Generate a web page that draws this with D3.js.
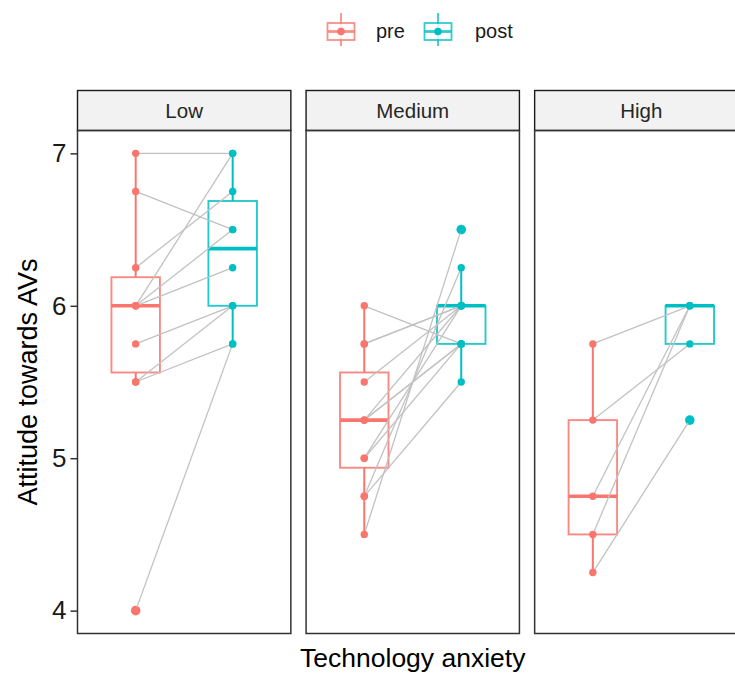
<!DOCTYPE html>
<html>
<head>
<meta charset="utf-8">
<script src="https://cdn.jsdelivr.net/npm/d3@7"></script>
<style>
  body { margin: 0; background: #fff; }
  text { font-family: "Liberation Sans", Arial, sans-serif; }
</style>
</head>
<body>
<svg id="chart" width="735" height="673"></svg>
<script>
const groups = ["Low", "Medium", "High"]
const conditions = ["pre", "post"]
const colors = ["#F8766D", "#00BFC4"]

// paired scores, one entry per participant (pre[i] -> post[i])
const lowPre = [7, 6.75, 6.25, 6, 6, 6, 5.75, 5.5, 5.5, 4]
const lowPost = [7, 6.5, 6.75, 7, 6.5, 6.25, 6, 6, 5.75, 5.75]
const mediumPre = [6, 5.75, 5.75, 5.5, 5.25, 5.25, 5.25, 5, 5, 4.75, 4.75, 4.5]
const mediumPost = [5.75, 6, 6, 6, 6, 5.75, 5.75, 6, 5.75, 6.25, 5.5, 6.5]
const highPre = [5.75, 5.25, 4.75, 4.5, 4.25]
const highPost = [6, 5.75, 6, 6, 5.25]
const yTicks = [4, 5, 6, 7]

const groupData = [
    { name: "Low", pre: lowPre, post: lowPost },
    { name: "Medium", pre: mediumPre, post: mediumPost },
    { name: "High", pre: highPre, post: highPost }
]

const svg = d3.select("#chart")

const panelTop = 130.5
const panelBottom = 633.5
const stripTop = 90.5

const facet = d3.scaleBand()
    .domain(groups)
    .range([77.5, 748])
    .paddingInner(0.0666)

const pw = facet.bandwidth()

const x = d3.scalePoint()
    .domain(conditions)
    .range([0, pw])
    .padding(0.6)

const y = d3.scaleLinear()
    .domain([3.85, 7.15])
    .range([panelBottom, panelTop])

const boxWidth = x.step() * 0.5

const boxStats = (values) => {
    let s = values.slice().sort(d3.ascending)
    let q1 = d3.quantile(s, 0.25)
    let med = d3.quantile(s, 0.5)
    let q3 = d3.quantile(s, 0.75)
    let iqr = q3 - q1
    let inside = s.filter(v => v >= q1 - 1.5 * iqr && v <= q3 + 1.5 * iqr)
    return {
        q1: q1, med: med, q3: q3,
        lo: d3.min(inside), hi: d3.max(inside),
        out: s.filter(v => v < q1 - 1.5 * iqr || v > q3 + 1.5 * iqr)
    }
}

// legend
const legend = svg.append("g")
const legendItems = [
    { label: "pre", color: colors[0], kx: 341, tx: 376 },
    { label: "post", color: colors[1], kx: 438, tx: 475 }
]
legendItems.forEach((d) => {
    let g = legend.append("g").attr("transform", "translate(" + d.kx + ",31)")
    g.append("line").attr("x1", 0).attr("x2", 0).attr("y1", -18).attr("y2", 15)
        .attr("stroke", d.color).attr("stroke-width", 1.8).attr("opacity", 0.8)
    g.append("rect").attr("x", -13.5).attr("y", -8).attr("width", 27).attr("height", 17)
        .attr("fill", "#fff").attr("stroke", d.color).attr("stroke-width", 1.8).attr("opacity", 0.8)
    g.append("line").attr("x1", -13.5).attr("x2", 13.5).attr("y1", 0.5).attr("y2", 0.5)
        .attr("stroke", d.color).attr("stroke-width", 2.8).attr("opacity", 0.8)
    g.append("circle").attr("cx", 0).attr("cy", 0.5).attr("r", 3.8).attr("fill", d.color)
    legend.append("text").attr("x", d.tx).attr("y", 38)
        .attr("font-size", 20).attr("fill", "#1a1a1a").text(d.label)
})

groupData.forEach((gd) => {
    let left = facet(gd.name)
    let g = svg.append("g").attr("transform", "translate(" + left + ",0)")

    // strip
    g.append("rect")
        .attr("x", 0).attr("y", stripTop)
        .attr("width", pw).attr("height", panelTop - stripTop)
        .attr("fill", "#F2F2F2").attr("stroke", "#1a1a1a").attr("stroke-width", 1.4)
    g.append("text")
        .attr("x", pw / 2).attr("y", (stripTop + panelTop) / 2 + 7)
        .attr("text-anchor", "middle")
        .attr("font-size", 20.5).attr("fill", "#262626")
        .text(gd.name)

    // boxplots
    conditions.forEach((c, i) => {
        let st = boxStats(gd[c])
        let cx = x(c)
        let bg = g.append("g")
        bg.append("line")
            .attr("x1", cx).attr("x2", cx).attr("y1", y(st.hi)).attr("y2", y(st.q3))
            .attr("stroke", colors[i]).attr("stroke-width", 2)
        bg.append("line")
            .attr("x1", cx).attr("x2", cx).attr("y1", y(st.q1)).attr("y2", y(st.lo))
            .attr("stroke", colors[i]).attr("stroke-width", 2)
        bg.append("rect")
            .attr("x", cx - boxWidth / 2).attr("y", y(st.q3))
            .attr("width", boxWidth).attr("height", y(st.q1) - y(st.q3))
            .attr("fill", "#fff").attr("stroke", colors[i]).attr("stroke-width", 1.9)
            .attr("stroke-opacity", 0.85)
        bg.append("line")
            .attr("x1", cx - boxWidth / 2).attr("x2", cx + boxWidth / 2)
            .attr("y1", y(st.med)).attr("y2", y(st.med))
            .attr("stroke", colors[i]).attr("stroke-width", 3.6)
        bg.selectAll(".outlier")
            .data(st.out)
            .enter()
            .append("circle")
            .attr("class", "outlier")
            .attr("cx", cx).attr("cy", (v) => y(v)).attr("r", 4.8)
            .attr("fill", colors[i])
    })

    // paired lines
    g.selectAll(".pair")
        .data(d3.range(gd.pre.length))
        .enter()
        .append("line")
        .attr("class", "pair")
        .attr("x1", x("pre")).attr("y1", (k) => y(gd.pre[k]))
        .attr("x2", x("post")).attr("y2", (k) => y(gd.post[k]))
        .attr("stroke", "#c2c2c2").attr("stroke-width", 1.3)

    // points
    conditions.forEach((c, i) => {
        g.selectAll(".pt-" + c)
            .data(gd[c])
            .enter()
            .append("circle")
            .attr("class", "pt-" + c)
            .attr("cx", x(c)).attr("cy", (v) => y(v)).attr("r", 3.7)
            .attr("fill", colors[i])
    })

    // panel border
    g.append("rect")
        .attr("x", 0).attr("y", panelTop)
        .attr("width", pw).attr("height", panelBottom - panelTop)
        .attr("fill", "none").attr("stroke", "#333").attr("stroke-width", 1.5)
})

// y axis on first panel
const yAxis = d3.axisLeft(y).tickValues(yTicks).tickSize(7).tickPadding(4).tickFormat(d3.format("d"))
const ya = svg.append("g")
    .attr("transform", "translate(" + facet("Low") + ",0)")
    .call(yAxis)
ya.select(".domain").remove()
ya.selectAll(".tick line").attr("stroke", "#333").attr("stroke-width", 1.5)
ya.selectAll(".tick text")
    .attr("font-size", 26).attr("fill", "#1a1a1a")
    .attr("font-family", "Liberation Sans, Arial, sans-serif")

// axis titles
svg.append("text")
    .attr("x", (facet.range()[0] + facet.range()[1]) / 2).attr("y", 667)
    .attr("text-anchor", "middle")
    .attr("font-size", 26.5).attr("fill", "#000")
    .text("Technology anxiety")

svg.append("text")
    .attr("transform", "translate(37," + (panelTop + panelBottom) / 2 + ") rotate(-90)")
    .attr("text-anchor", "middle")
    .attr("font-size", 27).attr("fill", "#000")
    .text("Attitude towards AVs")
</script>
</body>
</html>
